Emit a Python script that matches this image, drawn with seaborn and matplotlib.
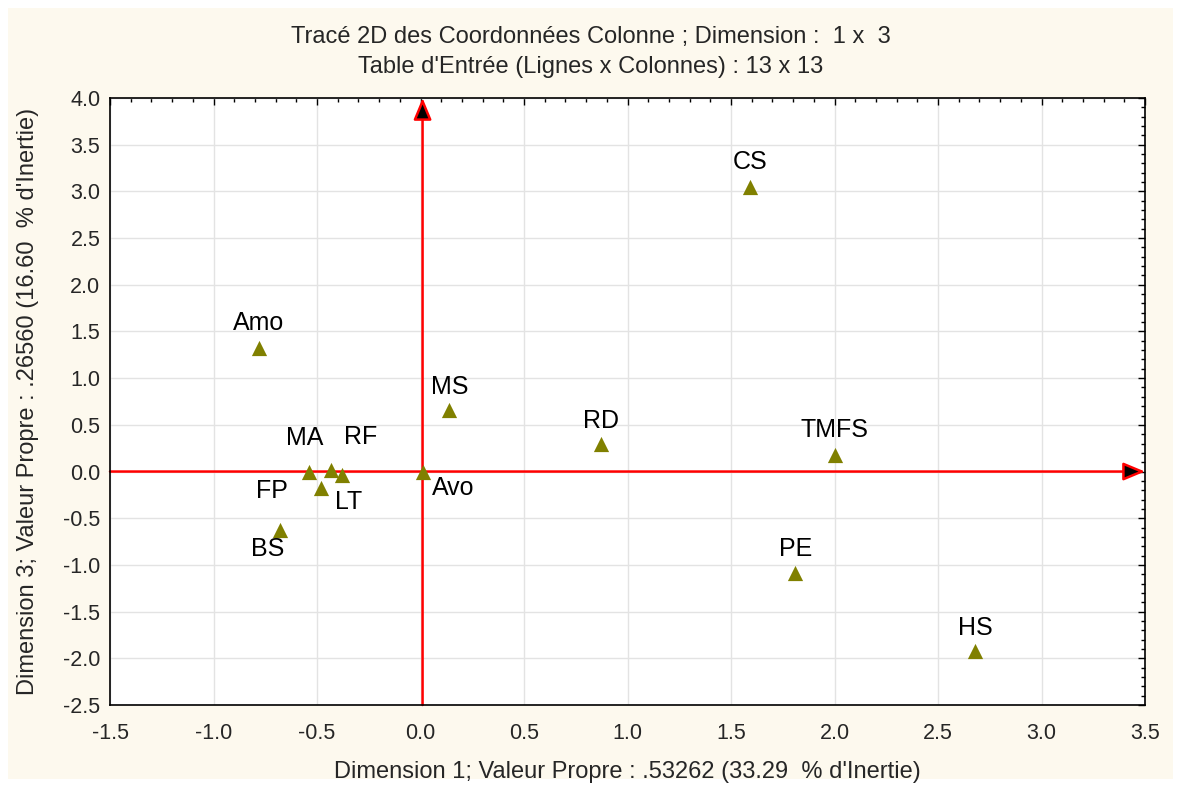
import numpy as np
import pandas as pd
import matplotlib
matplotlib.use('Agg')
import matplotlib.pyplot as plt
import seaborn as sns
from matplotlib.patches import Rectangle
from matplotlib.ticker import MultipleLocator, FormatStrFormatter

# column coordinates (dimension 1 x dimension 3)
labels = ['CS', 'Amo', 'MS', 'RD', 'TMFS', 'PE', 'HS', 'Avo', 'BS', 'MA', 'RF', 'LT', 'FP']
dim1 = [1.59, -0.78, 0.14, 0.87, 2.00, 1.81, 2.68, 0.01, -0.68, -0.54, -0.43, -0.38, -0.48]
dim3 = [3.05, 1.32, 0.66, 0.30, 0.18, -1.09, -1.92, 0.00, -0.63, -0.01, 0.02, -0.04, -0.18]
# label offsets in pixels (dx, dy)
label_dx = [0, 0, 0, 0, 0, 0, 0, 31, -12, -4, 29, 7, -49]
label_dy = [25, 25, 23, 23, 25, 24, 23, -16, -19, 34, 33, -27, -3]

df = pd.DataFrame({'label': labels, 'd1': dim1, 'd3': dim3})

sns.set_style('white')
plt.rcParams['font.family'] = ['Liberation Sans', 'DejaVu Sans']

fig = plt.figure(figsize=(11.81, 7.87), dpi=100)
fig.patch.set_facecolor('white')
# cream panel
fig.patches.append(Rectangle((8 / 1181, 8 / 787), 1 - 16 / 1181, 1 - 16 / 787,
                             transform=fig.transFigure, facecolor='#FDF9EE',
                             edgecolor='none', zorder=-10))

ax = fig.add_axes([110 / 1181, 1 - 705 / 787, (1145 - 110) / 1181, (705 - 98) / 787])
ax.set_facecolor('white')

ax.set_xlim(-1.5, 3.5)
ax.set_ylim(-2.5, 4.0)
ax.xaxis.set_major_locator(MultipleLocator(0.5))
ax.yaxis.set_major_locator(MultipleLocator(0.5))
ax.xaxis.set_minor_locator(MultipleLocator(0.1))
ax.yaxis.set_minor_locator(MultipleLocator(0.1))
ax.xaxis.set_major_formatter(FormatStrFormatter('%.1f'))
ax.yaxis.set_major_formatter(FormatStrFormatter('%.1f'))
ax.tick_params(which='both', direction='in', top=True, right=True, color='black')
ax.tick_params(which='major', length=5, width=1, labelsize=15.5)
ax.tick_params(axis='x', which='major', pad=13)
ax.tick_params(axis='y', which='major', pad=7)
ax.tick_params(which='minor', length=3, width=1)
ax.grid(True, which='major', color='#E3E3E3', lw=1)
ax.set_axisbelow(True)
for s in ax.spines.values():
    s.set_color('black')
    s.set_linewidth(1.2)

# red axes with arrows
arrow = dict(arrowstyle='-|>,head_length=0.6,head_width=0.25', ec='red', fc='black',
             lw=1.8, mutation_scale=22, shrinkA=0, shrinkB=0)
ax.annotate('', xy=(0.01, 4.0), xytext=(0.01, -2.5), arrowprops=arrow, zorder=2)
ax.annotate('', xy=(3.5, 0), xytext=(-1.5, 0), arrowprops=arrow, zorder=2)

sns.scatterplot(data=df, x='d1', y='d3', marker='^', s=120, color='#808000',
                edgecolor='#808000', linewidth=0, ax=ax, zorder=3, legend=False)

for lab, x, y, dx, dy in zip(labels, dim1, dim3, label_dx, label_dy):
    ax.annotate(lab, (x, y), xytext=(dx, dy), textcoords='offset pixels',
                ha='center', va='center', fontsize=18, color='black', zorder=4)

ax.set_xlabel("Dimension 1; Valeur Propre : .53262 (33.29  % d'Inertie)", fontsize=17)
ax.set_ylabel("Dimension 3; Valeur Propre : .26560 (16.60  % d'Inertie)", fontsize=17)
ax.xaxis.set_label_coords(0.5, (705 - 772) / 607)
ax.yaxis.set_label_coords((28 - 110) / 1035, 0.5)
ax.xaxis.label.set_va('center')
ax.yaxis.label.set_va('center')

fig.text(0.5, 1 - 37 / 787, "Tracé 2D des Coordonnées Colonne ; Dimension :  1 x  3",
         ha='center', va='center', fontsize=17)
fig.text(0.5, 1 - 67 / 787, "Table d'Entrée (Lignes x Colonnes) : 13 x 13",
         ha='center', va='center', fontsize=17)

fig.savefig('out.png', dpi=100, facecolor=fig.get_facecolor())
